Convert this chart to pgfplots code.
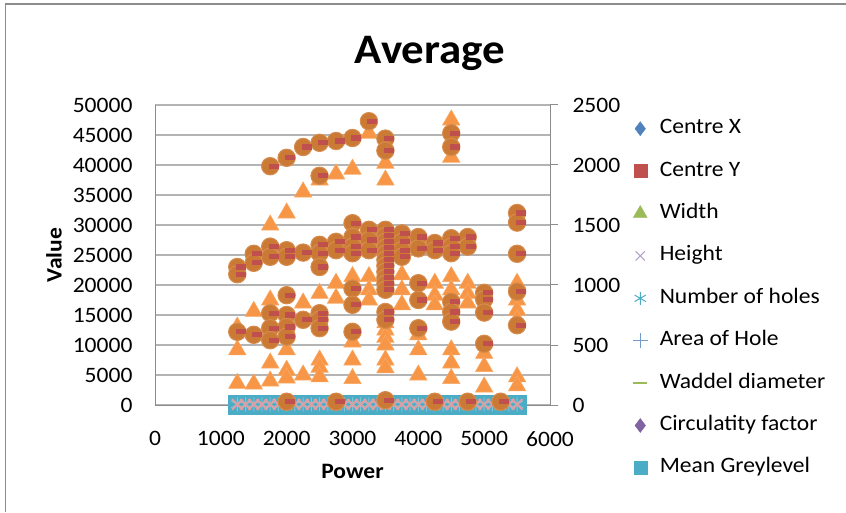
\documentclass[border=0pt]{standalone}
\usepackage{pgfplots}
\usepackage{pgfplotstable}
\pgfplotsset{compat=1.18}
\usepackage{fontspec}
\setmainfont{Carlito}[FakeStretch=1.07]
\definecolor{cTri}{HTML}{F79646}
\definecolor{cTriE}{HTML}{F9A762}
\definecolor{cCirc}{HTML}{CB7A36}
\definecolor{cCircE}{HTML}{D68C4C}
\definecolor{cRed}{HTML}{C0504D}
\definecolor{cBlue}{HTML}{4F81BD}
\definecolor{cGreen}{HTML}{9BBB59}
\definecolor{cPurple}{HTML}{8064A2}
\definecolor{cAqua}{HTML}{4BACC6}
\definecolor{cLav}{HTML}{B3A2C7}
\definecolor{cPink}{HTML}{D9A0A6}
\definecolor{cGrid}{HTML}{B4B4B4}
\definecolor{cAxis}{HTML}{8C8C8C}
\pgfdeclareplotmark{rdash}{\pgfpathrectangle{\pgfpoint{-1.5pt}{-2.6pt}}{\pgfpoint{10pt}{5.2pt}}\pgfusepathqfill}
\newcommand{\bigf}{\fontsize{22}{26}\selectfont}

\pgfplotstableread{
x y
1250 13000
1250 9200
1250 3600
1500 15600
1500 3500
1750 30000
1750 17500
1750 7000
1750 4000
2000 32000
2000 9200
2000 5800
2000 4500
2250 35500
2250 17000
2250 5000
2500 37500
2500 18600
2500 7500
2500 6300
2500 4700
2750 38500
2750 20300
2750 17800
3000 39300
3000 21400
3000 17500
3000 10500
3000 7500
3000 4400
3250 45300
3250 21400
3250 19200
3250 17500
3500 40300
3500 37500
3500 13700
3500 12500
3500 11300
3500 10000
3500 7500
3500 6200
3750 21700
3750 19200
3750 16700
4000 11700
4000 9200
4000 5000
4250 20300
4250 18300
4250 16700
4500 47500
4500 41300
4500 21400
4500 19200
4500 9200
4500 7000
4500 4400
4750 20300
4750 18600
4750 17000
5000 8600
5000 6400
5000 3000
5500 20300
5500 17500
5500 15800
5500 14200
5500 4700
5500 3200
}\tri

\pgfplotstableread{
x y
1250 23000
1250 21800
1250 12200
1500 25200
1500 23700
1500 11700
1750 39800
1750 26400
1750 24700
1750 15300
1750 12800
1750 10800
2000 41200
2000 25800
2000 24700
2000 18300
2000 15000
2000 13000
2000 11400
2000 550
2250 43000
2250 25400
2250 14200
2500 43700
2500 38200
2500 26700
2500 25300
2500 23000
2500 15300
2500 14200
2500 12800
2750 44000
2750 27200
2750 25800
2750 550
3000 44500
3000 30300
3000 28000
3000 26400
3000 25300
3000 19400
3000 16700
3000 12200
3250 47300
3250 29200
3250 27500
3250 25800
3500 44400
3500 42400
3500 29200
3500 28200
3500 27200
3500 26200
3500 25200
3500 24200
3500 23200
3500 22200
3500 21200
3500 20200
3500 19200
3500 15500
3500 14200
3500 800
3750 28600
3750 27200
3750 25800
3750 24700
4000 28000
4000 26100
4000 20300
4000 17500
4000 12800
4250 27000
4250 25800
4250 550
4500 45300
4500 43000
4500 27800
4500 26400
4500 25300
4500 17200
4500 15500
4500 13900
4750 28000
4750 26400
4750 550
5000 18700
5000 17600
5000 15400
5000 10200
5250 550
5500 32000
5500 30400
5500 25200
5500 18900
5500 13300
}\circ

\pgfplotstableread{
x y
1250 100
1375 100
1500 100
1625 100
1750 100
1875 100
2000 100
2125 100
2250 100
2375 100
2500 100
2625 100
2750 100
2875 100
3000 100
3125 100
3250 100
3375 100
3500 100
3625 100
3750 100
3875 100
4000 100
4125 100
4250 100
4375 100
4500 100
4625 100
4750 100
4875 100
5000 100
5125 100
5250 100
5375 100
5500 100
}\band

\begin{document}
\begin{tikzpicture}[x=1pt,y=1pt]
\useasboundingbox (0,0) rectangle (846,512);
\draw[cAxis, line width=1.2pt] (5.5,0) -- (5.5,508) -- (846,508);
\node[font=\fontsize{42}{48}\bfseries\selectfont, anchor=center] at (430,459) {Average};
\begin{axis}[
  at={(155pt,107pt)}, anchor=south west,
  scale only axis, width=395pt, height=300pt,
  xmin=0, xmax=6000, ymin=0, ymax=50000,
  xtick={0,1000,...,6000}, ytick={0,5000,...,50000},
  scaled ticks=false,
  /pgf/number format/.cd, 1000 sep={}, assume math mode=true, /pgfplots/.cd,
  axis x line*=bottom, axis y line*=left,
  axis line style={cAxis, line width=1pt},
  major tick length=0pt,
  ymajorgrids, major grid style={cGrid, line width=1.3pt},
  ticklabel style={font=\bigf, black},
  xticklabel style={yshift=-23pt},
  yticklabel style={xshift=-19pt},
  xlabel={Power}, ylabel={Value},
  label style={font=\bigf\bfseries},
  xlabel style={at={(axis description cs:0.5,-0.22)}, anchor=center},
  ylabel style={at={(axis description cs:-0.256,0.5)}, anchor=center, rotate=0},
  clip=false,
  legend style={at={(axis description cs:1.209,0.955)}, anchor=north west, draw=none, fill=none,
    inner sep=0pt, row sep=22.4pt, font=\bigf,
    nodes={inner sep=0pt, text height=15pt, text depth=5pt},
    /tikz/every odd column/.append style={column sep=12pt}},
  legend cell align=left,
]
% band near zero
\addplot[only marks, mark=square*, mark size=9.5pt, color=cAqua, forget plot] table {\band};
\addplot[only marks, mark=asterisk, mark size=7pt, color=cAqua!70!white, line width=1pt, forget plot] table {\band};
\addplot[only marks, mark=x, mark size=7.5pt, color=cPink, line width=2pt, forget plot] table {\band};
% triangles
\addplot[only marks, mark=triangle*, mark size=10pt, mark options={fill=cTri, draw=cTriE, line width=0.6pt}, forget plot] table {\tri};
% circles
\addplot[only marks, mark=*, mark size=8.7pt, mark options={fill=cCirc, draw=cCircE, line width=1pt}, forget plot] table {\circ};
% red dashes
\addplot[only marks, mark=rdash, color=cRed, forget plot] table {\circ};
% legend
\addlegendimage{only marks, mark=diamond*, mark size=7pt, color=cBlue}
\addlegendentry{Centre X}
\addlegendimage{only marks, mark=square*, mark size=6.5pt, color=cRed}
\addlegendentry{Centre Y}
\addlegendimage{only marks, mark=triangle*, mark size=8pt, color=cGreen}
\addlegendentry{Width}
\addlegendimage{only marks, mark=x, mark size=6.5pt, color=cLav, line width=1pt}
\addlegendentry{Height}
\addlegendimage{only marks, mark=asterisk, mark size=6.5pt, color=cAqua, line width=1pt}
\addlegendentry{Number of holes}
\addlegendimage{only marks, mark=+, mark size=7.5pt, color=cBlue!80!white, line width=1pt}
\addlegendentry{Area of Hole}
\addlegendimage{only marks, mark=-, mark size=7pt, color=cGreen, line width=2.5pt}
\addlegendentry{Waddel diameter}
\addlegendimage{only marks, mark=diamond*, mark size=7pt, color=cPurple}
\addlegendentry{Circulatity factor}
\addlegendimage{only marks, mark=square*, mark size=6.5pt, color=cAqua}
\addlegendentry{Mean Greylevel}
\end{axis}
\begin{axis}[
  at={(155pt,107pt)}, anchor=south west,
  scale only axis, width=395pt, height=300pt,
  xmin=0, xmax=6000, ymin=0, ymax=2500,
  ytick={0,500,...,2500},
  axis y line*=right, axis x line=none,
  y axis line style={cAxis, line width=1pt},
  ytick style={cAxis, line width=1pt}, major tick length=8pt, tick align=outside,
  /pgf/number format/.cd, 1000 sep={}, assume math mode=true, /pgfplots/.cd,
  ticklabel style={font=\bigf, black},
  yticklabel style={xshift=11pt},
]
\addplot[draw=none, forget plot] coordinates {(0,0)};
\end{axis}
\end{tikzpicture}
\end{document}
